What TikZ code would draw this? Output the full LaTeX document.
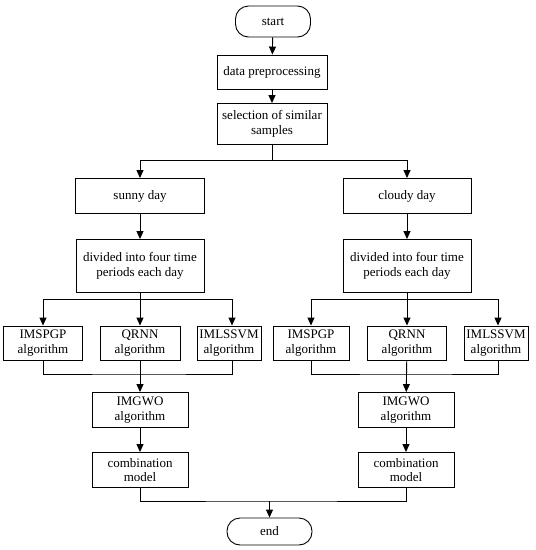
\documentclass[tikz,border=0pt]{standalone}
\usepackage{fontspec}
\setmainfont{Liberation Serif}
\usepackage{tikz}
\usetikzlibrary{arrows.meta}
\tikzset{
  box/.style={draw, line width=0.9pt, align=center, inner sep=1pt,
              font=\fontsize{13}{14.5}\selectfont},
  termbox/.style={box, rounded corners=13pt},
  edge/.style={-{Triangle[length=8pt,width=7pt]}, line width=0.9pt},
  wire/.style={line width=0.9pt}
}
\begin{document}
\begin{tikzpicture}[x=1pt, y=-1pt]
\useasboundingbox (0,0) rectangle (536,550);
% top part
\node (start) [termbox, minimum width=75pt, minimum height=31pt] at (273,21.5) {start};
\node (prep) [box, minimum width=110pt, minimum height=34pt] at (272,72) {data preprocessing};
\node (sel) [box, minimum width=110pt, minimum height=41pt] at (272,124) {selection of similar\\samples};
\coordinate (split) at (272,160);
% weather classes
\node (sunny) [box, minimum width=129pt, minimum height=35pt] at (140,196) {sunny day};
\node (cloudy) [box, minimum width=128pt, minimum height=35pt] at (407,196) {cloudy day};
\node (divL) [box, minimum width=128pt, minimum height=53pt] at (140,266) {divided into four time\\periods each day};
\node (divR) [box, minimum width=128pt, minimum height=53pt] at (407,266) {divided into four time\\periods each day};
\coordinate (splitL) at (140,299);
\coordinate (splitR) at (407,299);
% single models
\node (a1) [box, minimum width=79pt, minimum height=34pt] at (43,343) {IMSPGP\\algorithm};
\node (a2) [box, minimum width=80pt, minimum height=34pt] at (140,343) {QRNN\\algorithm};
\node (a3) [box, minimum width=64pt, minimum height=34pt] at (229,343) {IMLSSVM\\algorithm};
\node (b1) [box, minimum width=76pt, minimum height=34pt] at (311,343) {IMSPGP\\algorithm};
\node (b2) [box, minimum width=79pt, minimum height=34pt] at (407,343) {QRNN\\algorithm};
\node (b3) [box, minimum width=64pt, minimum height=34pt] at (496,343) {IMLSSVM\\algorithm};
\coordinate (mergeL) at (140,374);
\coordinate (mergeR) at (407,374);
% combination
\node (gL) [box, minimum width=96pt, minimum height=35pt] at (140,410) {IMGWO\\algorithm};
\node (gR) [box, minimum width=96pt, minimum height=35pt] at (406,410) {IMGWO\\algorithm};
\node (cL) [box, minimum width=96pt, minimum height=35pt] at (140,470) {combination\\model};
\node (cR) [box, minimum width=96pt, minimum height=35pt] at (406,470) {combination\\model};
\coordinate (join) at (269.5,501);
\node (end) [termbox, minimum width=85pt, minimum height=27pt] at (269.5,531.5) {end};
% connectors
\draw[edge] (start) -- (prep);
\draw[edge] (prep) -- (sel);
\draw[wire] (sel) -- (split);
\draw[edge] (split) -| (sunny);
\draw[edge] (split) -| (cloudy);
\draw[edge] (sunny) -- (divL);
\draw[edge] (cloudy) -- (divR);
\draw[wire] (divL) -- (splitL);
\draw[wire] (divR) -- (splitR);
\draw[edge] (splitL) -| (a1);
\draw[edge] (splitL) -- (a2);
\draw[edge] (splitL) -| ([xshift=3pt]a3.north);
\draw[edge] (splitR) -| (b1);
\draw[edge] (splitR) -- (b2);
\draw[edge] (splitR) -| ([xshift=2pt]b3.north);
\draw[wire] (a1.south) |- (mergeL) -| ([xshift=3pt]a3.south);
\draw[wire] (b1.south) |- (mergeR) -| ([xshift=2pt]b3.south);
\draw[edge] (a2) -- (gL);
\draw[edge] (b2) -- (gR);
\draw[edge] (gL) -- (cL);
\draw[edge] (gR) -- (cR);
\draw[wire] (cL.south) |- (join) -| (cR.south);
\draw[edge] (join) -- (end);
\end{tikzpicture}
\end{document}
